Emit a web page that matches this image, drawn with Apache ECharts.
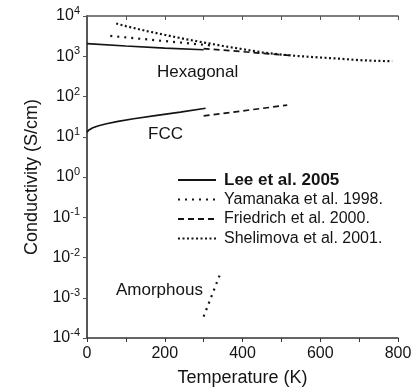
<!DOCTYPE html>
<html>
<head>
<meta charset="utf-8">
<script src="https://cdn.jsdelivr.net/npm/echarts@6/dist/echarts.min.js"></script>
<style>
  html, body { margin: 0; padding: 0; background: #fff; }
  #main { width: 420px; height: 392px; }
</style>
</head>
<body>
<div id="main"></div>
<script>
// temperature (K) and conductivity (S/cm)
const leeHexT = [0, 100, 200, 300];
const leeHexS = [2050, 1800, 1600, 1450];
const leeFccT = [0, 5, 15, 30, 50, 80, 120, 180, 240, 305];
const leeFccS = [13, 14.8, 16.8, 18.8, 21, 24, 28, 34, 41, 51];
const yamaHexT = [60, 320];
const yamaHexS = [3200, 1850];
const yamaAmoT = [300, 345];
const yamaAmoS = [0.00034, 0.0045];
const friHexT = [300, 520];
const friHexS = [1550, 1050];
const friFccT = [300, 515];
const friFccS = [33, 61];
const sheT = [75, 100, 150, 200, 250, 300, 350, 400, 450, 500, 550, 600, 650, 700, 750, 785];
const sheS = [6500, 5600, 4300, 3400, 2700, 2200, 1800, 1500, 1250, 1100, 1000, 930, 870, 800, 765, 755];

const names = ['Lee et al. 2005', 'Yamanaka et al. 1998.', 'Friedrich et al. 2000.', 'Shelimova et al. 2001.'];
const xTicks = [0, 200, 400, 600, 800];

const font = 'Liberation Sans, Arial, sans-serif';
const ink = '#141414';

function pairs(xs, ys) {
    return xs.map((x, i) => [x, ys[i]]);
}

function line(name, xs, ys, type, width) {
    return {
        name: name,
        type: 'line',
        data: pairs(xs, ys),
        symbol: 'none',
        legendIcon: 'none',
        lineStyle: { color: ink, width: width, type: type },
        itemStyle: { color: ink },
        z: 3
    };
}

let chart = echarts.init(document.getElementById('main'));

chart.setOption({
    animation: false,
    textStyle: { fontFamily: font, color: ink },
    grid: { left: 87, right: 22, top: 16, bottom: 50 },
    legend: {
        orient: 'vertical',
        left: 172,
        top: 166,
        itemWidth: 38,
        itemHeight: 10,
        itemGap: 1.5,
        itemStyle: { opacity: 0 },
        textStyle: { fontSize: 16, color: ink, fontFamily: font, lineHeight: 18, padding: [0, 0, 0, 3] },
        data: [
            { name: names[0], textStyle: { fontSize: 17, fontWeight: 'bold' } },
            names[1], names[2], names[3]
        ]
    },
    xAxis: [{
        type: 'value',
        min: xTicks[0],
        max: xTicks[xTicks.length - 1],
        interval: 200,
        name: 'Temperature (K)',
        nameLocation: 'middle',
        nameGap: 31,
        nameTextStyle: { fontSize: 18, color: ink, fontFamily: font },
        axisLine: { lineStyle: { color: '#333', width: 1.5 } },
        axisTick: { length: 4, lineStyle: { color: '#333' } },
        minorTick: { show: true, splitNumber: 2, length: 4, lineStyle: { color: '#333' } },
        axisLabel: { fontSize: 16, color: ink, margin: 8 },
        splitLine: { show: false }
    }, {
        type: 'value',
        position: 'top',
        min: 0,
        max: 800,
        interval: 100,
        axisLine: { show: true, lineStyle: { color: '#555', width: 1.5 } },
        axisTick: { inside: true, length: 4, lineStyle: { color: '#555' } },
        axisLabel: { show: false },
        splitLine: { show: false }
    }],
    yAxis: [{
        type: 'log',
        logBase: 10,
        min: 1e-4,
        max: 1e4,
        interval: 1,
        name: 'Conductivity (S/cm)',
        nameLocation: 'middle',
        nameGap: 45,
        nameTextStyle: { fontSize: 18, color: ink, fontFamily: font },
        axisLine: { show: true, lineStyle: { color: '#333', width: 1.5 } },
        axisTick: { show: true, length: 4, lineStyle: { color: '#333' } },
        axisLabel: {
            margin: 7,
            formatter: function (v) {
                let e = Math.round(Math.log10(v));
                return '{b|10}{s|' + e + '}';
            },
            rich: {
                b: { fontSize: 16, lineHeight: 22, color: ink, fontFamily: font },
                s: { fontSize: 11, lineHeight: 12, padding: [0, 0, 10, 0], color: ink, fontFamily: font }
            }
        },
        splitLine: { show: false }
    }, {
        type: 'log',
        logBase: 10,
        min: 1e-4,
        max: 1e4,
        interval: 1,
        position: 'right',
        axisLine: { show: true, lineStyle: { color: '#555', width: 1.5 } },
        axisTick: { show: true, inside: true, length: 4, lineStyle: { color: '#555' } },
        axisLabel: { show: false },
        splitLine: { show: false }
    }],
    graphic: [
        { type: 'text', left: 157, top: 64, style: { text: 'Hexagonal', fontSize: 17, fontFamily: font, fill: ink } },
        { type: 'text', left: 148, top: 126, style: { text: 'FCC', fontSize: 17, fontFamily: font, fill: ink } },
        { type: 'text', left: 116, top: 282, style: { text: 'Amorphous', fontSize: 17, fontFamily: font, fill: ink } }
    ],
    series: [
        line(names[0], leeHexT, leeHexS, 'solid', 1.7),
        line(names[0], leeFccT, leeFccS, 'solid', 1.7),
        line(names[1], yamaHexT, yamaHexS, [2, 5], 2.2),
        line(names[1], yamaAmoT, yamaAmoS, [2, 5], 2.2),
        line(names[2], friHexT, friHexS, [6, 4], 1.7),
        line(names[2], friFccT, friFccS, [6, 4], 1.7),
        line(names[3], sheT, sheS, [2, 2.5], 2.2)
    ]
});
</script>
</body>
</html>
